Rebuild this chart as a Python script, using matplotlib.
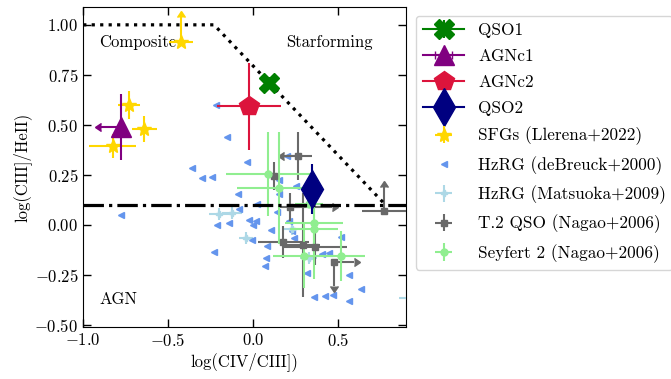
import numpy as np
import matplotlib
matplotlib.use("Agg")
import matplotlib.pyplot as plt

plt.rcParams['font.family'] = 'serif'
plt.rcParams['font.serif'] = ['cmr10']
plt.rcParams['mathtext.fontset'] = 'cm'
plt.rcParams['axes.formatter.use_mathtext'] = True
plt.rcParams['axes.unicode_minus'] = True

# ---------------- data ----------------
# main objects
qso1_x, qso1_y, qso1_xerr, qso1_yerr = [0.094], [0.71], [0.03], [0.03]
agnc1_x, agnc1_y, agnc1_xerr, agnc1_yerr = [-0.778], [0.49], [0.12], [0.165]
agnc2_x, agnc2_y, agnc2_xerr, agnc2_yerr = [-0.024], [0.593], [0.19], [0.217]
qso2_x, qso2_y, qso2_xerr, qso2_yerr = [0.345], [0.179], [0.03], [0.125]

# SFGs (Llerena+2022)
sfg_x = [-0.729, -0.641, -0.827]
sfg_y = [0.598, 0.480, 0.397]
sfg_xerr = [0.065, 0.074, 0.14]
sfg_yerr = [0.07, 0.065, 0.06]
sfg_lim_x, sfg_lim_y, sfg_lim_xerr, sfg_lim_yerr = [-0.425], [0.916], [0.07], [0.125]

# HzRG (deBreuck+2000)
hzrg_x = [-0.357, -0.302, -0.243, -0.033, -0.086, 0.022, -0.082, -0.21, -0.141,
          -0.024, 0.016, 0.0, 0.104, 0.153, 0.153, 0.143, 0.2, -0.22, -0.151,
          -0.778, -0.229, -0.004, 0.084, 0.078, 0.07, 0.251, 0.212, 0.241,
          0.231, 0.408, 0.447, 0.516, 0.32, 0.359, 0.424, 0.473, 0.565, 0.565,
          0.634]
hzrg_y = [0.285, 0.233, 0.238, 0.313, 0.157, 0.107, 0.079, 0.0, 0.012,
          0.024, 0.02, 0.0, -0.027, 0.225, 0.156, 0.067, 0.343, 0.601, 0.442,
          0.05, -0.134, -0.077, -0.106, -0.167, -0.206, 0.196, 0.02, -0.064,
          -0.03, -0.147, -0.139, -0.06, -0.24, -0.36, -0.353, -0.352, -0.378,
          -0.248, -0.32]

# HzRG (Matsuoka+2009)
mat_x = [-0.2, -0.125, -0.041, 0.231, 0.329, 0.93]
mat_y = [0.054, 0.059, -0.067, -0.022, -0.164, -0.365]
mat_xerr = [0.06, 0.06, 0.04, 0.05, 0.05, 0.07]
mat_yerr = [0.03, 0.03, 0.03, 0.03, 0.03, 0.03]

# T.2 QSO (Nagao+2006)
t2_x = [0.265, 0.124, 0.216, 0.178, 0.296, 0.365, 0.475, 0.773]
t2_y = [0.343, 0.246, 0.092, -0.084, -0.102, -0.11, -0.184, 0.07]
t2_xerr = [0.08, 0.0, 0.06, 0.15, 0.10, 0.19, 0.0, 0.13]
t2_yerr = [0.12, 0.07, 0.07, 0.08, 0.26, 0.09, 0.0, 0.0]
# limits: (x, y, length)
t2_left_x, t2_left_y, t2_left_len = [0.265], [0.343], [0.08]
t2_right_x, t2_right_y, t2_right_len = [0.216, 0.475], [0.092, -0.184], [0.25, 0.12]
t2_down_x, t2_down_y, t2_down_len = [0.475], [-0.184], [0.12]
t2_up_x, t2_up_y, t2_up_len = [0.773], [0.07], [0.12]

# Seyfert 2 (Nagao+2006)
sy2_x = [0.09, 0.153, 0.359, 0.359, 0.30, 0.516, 0.329]
sy2_y = [0.255, 0.187, 0.012, -0.022, -0.156, -0.156, 0.107]
sy2_xerr = [0.25, 0.25, 0.17, 0.14, 0.18, 0.14, 0.08]
sy2_yerr = [0.21, 0.28, 0.10, 0.25, 0.16, 0.125, 0.02]

# classification lines
div_x = [-1.0, -0.23, 0.78]
div_y = [1.0, 1.0, 0.1]
agn_line_y = 0.1

# ---------------- plot ----------------
fig = plt.figure(figsize=(6.71, 3.79), dpi=100)
ax = fig.add_axes([0.124, 0.137, 0.481, 0.845])

ax.plot(div_x, div_y, ls=':', color='black', lw=2.3, zorder=5)
ax.axhline(agn_line_y, ls='-.', color='black', lw=2.3, zorder=5)

ekw = dict(elinewidth=1.5, capsize=0)

ax.errorbar(hzrg_x, hzrg_y, fmt='<', color='cornflowerblue', ms=5,
            label='HzRG (deBreuck+2000)', zorder=3)
ax.errorbar(mat_x, mat_y, xerr=mat_xerr, yerr=mat_yerr, fmt='P',
            color='lightblue', ms=5, label='HzRG (Matsuoka+2009)', zorder=3, **ekw)
ax.errorbar(t2_x, t2_y, xerr=t2_xerr, yerr=t2_yerr, fmt='s', color='dimgray',
            ms=5, label='T.2 QSO (Nagao+2006)', zorder=4, **ekw)
ax.errorbar(t2_left_x, t2_left_y, xerr=t2_left_len, xuplims=True, fmt='none',
            color='dimgray', ecolor='dimgray', zorder=4, **ekw)
ax.errorbar(t2_right_x, t2_right_y, xerr=t2_right_len, xlolims=True, fmt='none',
            color='dimgray', ecolor='dimgray', zorder=4, **ekw)
ax.errorbar(t2_down_x, t2_down_y, yerr=t2_down_len, uplims=True, fmt='none',
            color='dimgray', ecolor='dimgray', zorder=4, **ekw)
ax.errorbar(t2_up_x, t2_up_y, yerr=t2_up_len, lolims=True, fmt='none',
            color='dimgray', ecolor='dimgray', zorder=4, **ekw)
ax.errorbar(sy2_x, sy2_y, xerr=sy2_xerr, yerr=sy2_yerr, fmt='o', color='lightgreen',
            ms=5, label='Seyfert 2 (Nagao+2006)', zorder=4, **ekw)

ax.errorbar(sfg_x, sfg_y, xerr=sfg_xerr, yerr=sfg_yerr, fmt='*', color='gold',
            ms=10, label='SFGs (Llerena+2022)', zorder=6, **ekw)
ax.errorbar(sfg_lim_x, sfg_lim_y, xerr=sfg_lim_xerr, fmt='*', color='gold',
            ms=10, zorder=6, **ekw)
ax.errorbar(sfg_lim_x, sfg_lim_y, yerr=sfg_lim_yerr, lolims=True, fmt='none',
            color='gold', ecolor='gold', zorder=6, **ekw)

ax.errorbar(qso1_x, qso1_y, xerr=qso1_xerr, yerr=qso1_yerr, fmt='X-',
            color='green', ms=15, label='QSO1', zorder=8, **ekw)
ax.errorbar(agnc1_x, agnc1_y, xerr=agnc1_xerr, xuplims=True, fmt='^-',
            color='purple', ms=14, label='AGNc1', zorder=8, **ekw)
ax.errorbar(agnc1_x, agnc1_y, yerr=agnc1_yerr, fmt='none', ecolor='purple',
            color='purple', zorder=7, **ekw)
ax.errorbar(agnc2_x, agnc2_y, xerr=agnc2_xerr, yerr=agnc2_yerr, fmt='p-',
            color='crimson', ms=15, label='AGNc2', zorder=8, **ekw)
ax.errorbar(qso2_x, qso2_y, xerr=qso2_xerr, yerr=qso2_yerr, fmt='d-',
            color='navy', ms=19, label='QSO2', zorder=8, **ekw)

ax.text(-0.906, 0.915, 'Composite', fontsize=12, va='center', ha='left')
ax.text(0.194, 0.915, 'Starforming', fontsize=12, va='center', ha='left')
ax.text(-0.906, -0.372, 'AGN', fontsize=12, va='center', ha='left')

ax.set_xlim(-1.0, 0.9)
ax.set_ylim(-0.51, 1.09)
ax.set_xticks([-1.0, -0.5, 0.0, 0.5])
ax.set_yticks([-0.5, -0.25, 0.0, 0.25, 0.5, 0.75, 1.0])
ax.tick_params(direction='in', top=True, right=True, length=6, width=1,
               labelsize=12)
ax.set_xlabel('log(CIV/CIII])', fontsize=12, labelpad=2)
ax.set_ylabel('log(CIII]/HeII)', fontsize=12, labelpad=2)

handles, labels = ax.get_legend_handles_labels()
order = ['QSO1', 'AGNc1', 'AGNc2', 'QSO2', 'SFGs (Llerena+2022)',
         'HzRG (deBreuck+2000)', 'HzRG (Matsuoka+2009)', 'T.2 QSO (Nagao+2006)',
         'Seyfert 2 (Nagao+2006)']
hmap = dict(zip(labels, handles))
fig.legend([hmap[o] for o in order], order, loc='upper left',
           bbox_to_anchor=(0.62, 0.958), borderaxespad=0, fontsize=12.4,
           handlelength=2.4, labelspacing=0.62)

fig.savefig('out.png', dpi=100)
